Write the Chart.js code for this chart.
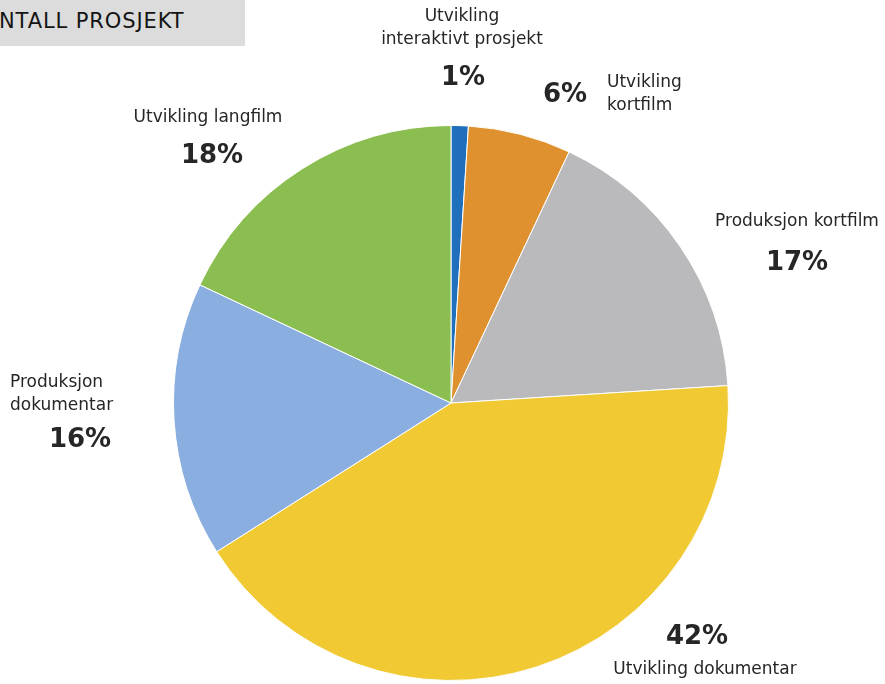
<!DOCTYPE html>
<html>
<head>
<meta charset="utf-8">
<script src="https://cdn.jsdelivr.net/npm/chart.js@4"></script>
<style>
  html, body { margin: 0; padding: 0; background: #fff; }
  #wrap { position: relative; width: 885px; height: 684px; }
  #title {
    position: absolute; left: 0; top: 0; width: 245px; height: 46px;
    background: #dcdcdc; overflow: hidden;
  }
  #title span {
    position: absolute; left: -1px; top: 9px;
    font: normal 21px "DejaVu Sans", sans-serif; color: #141414; letter-spacing: 0.9px;
  }
</style>
</head>
<body>
<div id="wrap">
  <canvas id="pie" width="885" height="684"></canvas>
  <div id="title"><span>NTALL PROSJEKT</span></div>
</div>
<script>
var categories = [
  'Utvikling interaktivt prosjekt',
  'Utvikling kortfilm',
  'Produksjon kortfilm',
  'Utvikling dokumentar',
  'Produksjon dokumentar',
  'Utvikling langfilm'
];
var shares = [1, 6, 17, 42, 16, 18];
var colours = ['#1f6fbd', '#e0912f', '#bababd', '#f0c933', '#8aaedf', '#8bbe50'];

// label text lines and where they go (name lines, then the percent)
var labelSpots = [
  { name: ['Utvikling', 'interaktivt prosjekt'], nx: 462, ny: 17, align: 'center', px: 463, py: 78 },
  { name: ['Utvikling', 'kortfilm'], nx: 607, ny: 83, align: 'left', px: 565, py: 95 },
  { name: ['Produksjon kortfilm'], nx: 797, ny: 222, align: 'center', px: 797, py: 263 },
  { name: ['Utvikling dokumentar'], nx: 705, ny: 670, align: 'center', px: 697, py: 637 },
  { name: ['Produksjon', 'dokumentar'], nx: 10, ny: 383, align: 'left', px: 80, py: 440 },
  { name: ['Utvikling langfilm'], nx: 208, ny: 118, align: 'center', px: 212, py: 156 }
];

var labelPlugin = {
  id: 'sliceLabels',
  afterDraw: function(chart) {
    var ctx = chart.ctx;
    var vals = chart.data.datasets[0].data;
    ctx.save();
    ctx.fillStyle = '#262626';
    ctx.textBaseline = 'middle';
    labelSpots.forEach(function(s, i) {
      ctx.font = '17px "DejaVu Sans", sans-serif';
      ctx.textAlign = s.align;
      s.name.forEach(function(line, k) {
        ctx.fillText(line, s.nx, s.ny + k * 23);
      });
      ctx.font = 'bold 26px "DejaVu Sans", sans-serif';
      ctx.textAlign = 'center';
      ctx.fillText(vals[i] + '%', s.px, s.py);
    });
    ctx.restore();
  }
};

new Chart(document.getElementById('pie'), {
  type: 'pie',
  data: {
    labels: categories,
    datasets: [{
      data: shares,
      backgroundColor: colours,
      borderColor: '#ffffff',
      borderWidth: 1
    }]
  },
  options: {
    responsive: false,
    animation: false,
    layout: { padding: { left: 173, right: 156, top: 125, bottom: 3 } },
    plugins: {
      legend: { display: false },
      tooltip: { enabled: false }
    }
  },
  plugins: [labelPlugin]
});
</script>
</body>
</html>
